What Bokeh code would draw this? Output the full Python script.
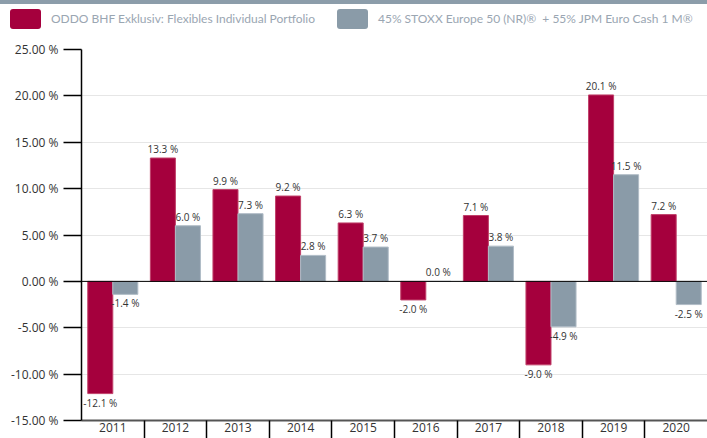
from bokeh.plotting import figure
from bokeh.models import ColumnDataSource, FixedTicker, Span, Div
from bokeh.layouts import column
from bokeh.core.properties import value
from bokeh.embed import file_html
from bokeh.resources import INLINE

years = ["2011", "2012", "2013", "2014", "2015", "2016", "2017", "2018", "2019", "2020"]
fund = [-12.1, 13.3, 9.9, 9.2, 6.3, -2.0, 7.1, -9.0, 20.1, 7.2]
bench = [-1.4, 6.0, 7.3, 2.8, 3.7, 0.0, 3.8, -4.9, 11.5, -2.5]
series_names = ["ODDO BHF Exklusiv: Flexibles Individual Portfolio",
                "45% STOXX Europe 50 (NR)\u00ae  + 55% JPM Euro Cash 1 M\u00ae"]
y_ticks = [-15, -10, -5, 0, 5, 10, 15, 20, 25]

RED = "#A5003D"
GRAY = "#8A9BA8"
STRIP = "#8C9DAA"
FONT = "Open Sans"
TXT = "#333333"

# ---------- legend strip (HTML) ----------
sw_left = [10, 337]
parts = [f'<div style="position:absolute;left:0;top:0;width:707px;height:4px;background:{STRIP};"></div>']
for i, (name, col) in enumerate(zip(series_names, [RED, GRAY])):
    parts.append(f'<div style="position:absolute;left:{sw_left[i]}px;top:9px;width:31px;height:20px;'
                 f'border-radius:3px;background:{col};"></div>')
    parts.append(f'<div style="position:absolute;left:{sw_left[i] + 41}px;top:9px;height:20px;'
                 f'line-height:20px;white-space:nowrap;">{name.replace("  ", "&nbsp; ")}</div>')
html = ('<div style="position:relative;width:707px;height:40px;margin:0;padding:0;'
        'font-family:Lato,sans-serif;font-size:12px;color:#9AA6B2;">' + "".join(parts) + '</div>')
leg = Div(text=html, width=707, height=40, margin=0)

# ---------- main chart ----------
n = len(years)
xc = [i + 0.5 for i in range(n)]
src = ColumnDataSource(dict(
    xf=[x - 0.2 for x in xc], xb=[x + 0.2 for x in xc], fund=fund, bench=bench))

p = figure(width=707, height=398, x_range=(0, n), y_range=(-15, 25),
           output_backend="svg", toolbar_location=None,
           min_border_left=81, min_border_right=0, min_border_top=9, min_border_bottom=18)
p.outline_line_color = None

p.vbar(x="xf", top="fund", bottom=0, width=0.4, source=src, fill_color=RED,
       line_color="#C0406A", line_width=1)
p.vbar(x="xb", top="bench", bottom=0, width=0.4, source=src, fill_color=GRAY,
       line_color="#B0BCC6", line_width=1)

# value labels
lab_x, lab_y, lab_t = [], [], []
for i in range(n):
    lab_x += [xc[i] - 0.2, xc[i] + 0.2]
    lab_y += [fund[i], bench[i]]
    lab_t += [f"{fund[i]:.1f} %", f"{bench[i]:.1f} %"]
pos = ColumnDataSource(dict(x=[a for a, b in zip(lab_x, lab_y) if b >= 0],
                            y=[b for b in lab_y if b >= 0],
                            t=[t for t, b in zip(lab_t, lab_y) if b >= 0]))
neg = ColumnDataSource(dict(x=[a for a, b in zip(lab_x, lab_y) if b < 0],
                            y=[b for b in lab_y if b < 0],
                            t=[t for t, b in zip(lab_t, lab_y) if b < 0]))
p.text(x="x", y="y", text="t", source=pos, text_align="center", text_baseline="bottom",
       y_offset=-2, text_font=value(FONT), text_font_size="10px", text_color=TXT)
p.text(x="x", y="y", text="t", source=neg, text_align="center", text_baseline="top",
       y_offset=2, text_font=value(FONT), text_font_size="10px", text_color=TXT)

p.add_layout(Span(location=0, dimension="width", line_color="black", line_width=1))

# y axis
p.yaxis.ticker = FixedTicker(ticks=y_ticks)
p.yaxis.major_label_overrides = {t: f"{t:.2f} %" for t in y_ticks}
p.yaxis.major_label_text_font = FONT
p.yaxis.major_label_text_font_size = "12px"
p.yaxis.major_label_text_color = TXT
p.yaxis.axis_line_color = "black"
p.yaxis.axis_line_width = 1.5
p.yaxis.major_tick_line_color = "black"
p.yaxis.major_tick_line_width = 1.5
p.yaxis.major_tick_out = 18
p.yaxis.major_tick_in = 0
p.yaxis.minor_tick_line_color = None
p.yaxis.major_label_standoff = 5
p.ygrid.grid_line_color = "#E6E6E6"
p.xgrid.grid_line_color = None

# x axis
p.xaxis.ticker = FixedTicker(ticks=xc, minor_ticks=list(range(1, n)))
p.xaxis.major_label_overrides = {x: y for x, y in zip(xc, years)}
p.xaxis.major_label_text_font = FONT
p.xaxis.major_label_text_font_size = "12px"
p.xaxis.major_label_text_color = TXT
p.xaxis.major_tick_line_color = None
p.xaxis.major_tick_out = 0
p.xaxis.major_tick_in = 0
p.xaxis.major_label_standoff = -16
p.xaxis.minor_tick_line_color = "black"
p.xaxis.minor_tick_line_width = 1.5
p.xaxis.minor_tick_out = 18
p.xaxis.minor_tick_in = 0
p.xaxis.axis_line_color = "#555555"
p.xaxis.axis_line_width = 2

layout = column(leg, p, spacing=0)
open("out.html", "w").write(file_html(layout, INLINE))
